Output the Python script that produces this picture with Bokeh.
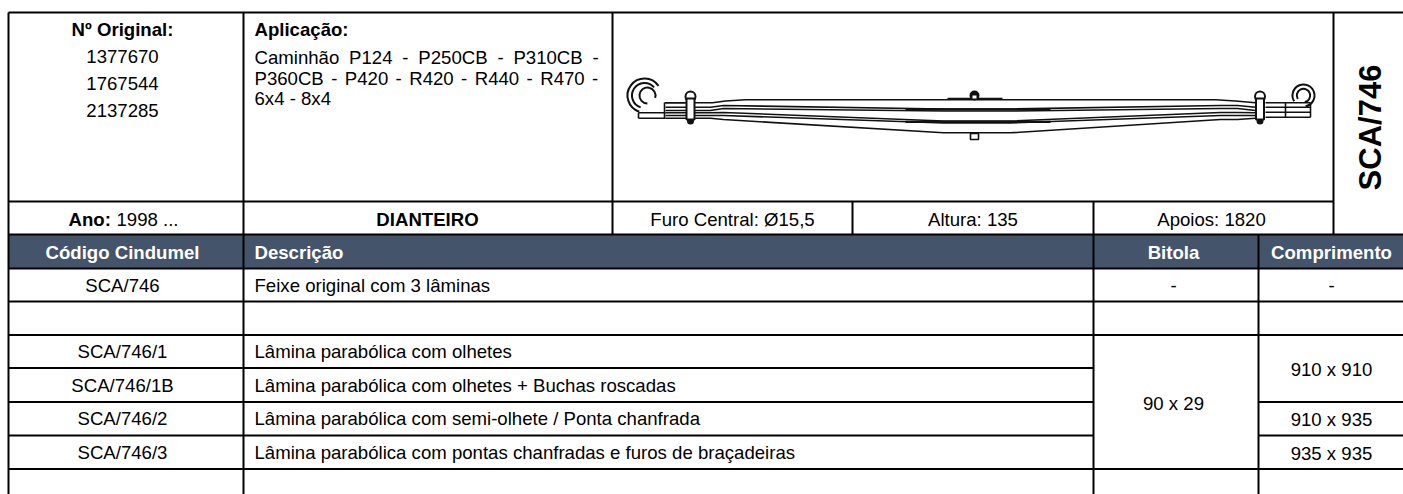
from bokeh.plotting import figure
from bokeh.models import Range1d
from bokeh.core.properties import value
from bokeh.embed import file_html
from bokeh.resources import INLINE

# ---- table content
originals = ["1377670", "1767544", "2137285"]
app_line1 = ["Caminhão", "P124", "-", "P250CB", "-", "P310CB", "-"]
app_line2 = ["P360CB", "-", "P420", "-", "R420", "-", "R440", "-", "R470", "-"]
app_line3 = ["6x4 - 8x4"]
info_row = ["Furo Central: Ø15,5", "Altura: 135", "Apoios: 1820"]
headers = ["Código Cindumel", "Descrição", "Bitola", "Comprimento"]
codes = ["SCA/746", "", "SCA/746/1", "SCA/746/1B", "SCA/746/2", "SCA/746/3", ""]
descriptions = ["Feixe original com 3 lâminas", "", "Lâmina parabólica com olhetes",
                "Lâmina parabólica com olhetes + Buchas roscadas",
                "Lâmina parabólica com semi-olhete / Ponta chanfrada",
                "Lâmina parabólica com pontas chanfradas e furos de braçadeiras", ""]
code_title = "SCA/746"

# ---- layout of the table (pixels)
X0, X1, X2, X3, X4, X5, X6 = 8, 243, 612, 852, 1093, 1333, 1258
Y_TOP, Y_ANO, Y_HEAD, Y_BODY = 12, 201, 234, 268
ROWS = [268, 301, 334.5, 367.5, 401.5, 435, 468.5, 494]
APP_X1 = [254, 348.6, 401.8, 417.8, 496.9, 512.9, 592]
APP_X2 = [254, 330.7, 344.3, 395.1, 408.7, 460.6, 474.2, 526.1, 539.7, 591.6]
FS = "18.6px"
FONT = value("Liberation Sans")

p = figure(width=1403, height=494, x_range=Range1d(0, 1403), y_range=Range1d(494, 0),
           output_backend="svg", toolbar_location=None, min_border=0,
           background_fill_color="white", border_fill_color="white",
           outline_line_color=None)
p.axis.visible = False
p.grid.visible = False

# header band
p.quad(left=[X0], right=[1403], top=[Y_HEAD], bottom=[Y_BODY], fill_color="#44546A", line_color=None)

# grid lines
r = ROWS
segs = [
    ([X0, 1403], [Y_TOP, Y_TOP]),
    ([X0, X5], [Y_ANO, Y_ANO]), ([X0, 1403], [Y_HEAD, Y_HEAD]), ([X0, 1403], [Y_BODY, Y_BODY]),
    ([X0, X0], [Y_TOP, 494]), ([X1, X1], [Y_TOP, 494]), ([X2, X2], [Y_TOP, Y_HEAD]),
    ([X3, X3], [Y_ANO, Y_HEAD]), ([X4, X4], [Y_ANO, Y_HEAD]), ([X5, X5], [Y_TOP, Y_HEAD]),
    ([X4, X4], [Y_HEAD, 494]), ([X6, X6], [Y_HEAD, 494]),
    ([X0, 1403], [r[1], r[1]]), ([X0, 1403], [r[2], r[2]]), ([X0, 1403], [r[6], r[6]]),
    ([X0, X4], [r[3], r[3]]), ([X0, X4], [r[4], r[4]]), ([X6, 1403], [r[4], r[4]]),
    ([X0, X4], [r[5], r[5]]), ([X6, 1403], [r[5], r[5]]),
]
p.multi_line([s[0] for s in segs], [s[1] for s in segs], line_color="black", line_width=2)


def txt(x, y, s, align="center", bold=False, color="black", size=FS, angle=0):
    p.text([x], [y], text=[s], text_align=align, text_baseline="middle",
           text_font=FONT, text_font_size=size, text_color=color, angle=angle,
           text_font_style="bold" if bold else "normal")


# top-left block
txt(122, 29, "Nº Original:", bold=True)
for s, y in zip(originals, [56, 83, 110]):
    txt(122, y, s)
txt(254, 29, "Aplicação:", "left", True)
for s, x in zip(app_line1, APP_X1):
    txt(x, 57, s, "left")
for s, x in zip(app_line2, APP_X2):
    txt(x, 78, s, "left")
txt(254, 98, app_line3[0], "left")

# info row
txt(68, 219, "Ano:", "left", True)
txt(116, 219, "1998 ...", "left")
txt(427, 219, "DIANTEIRO", bold=True)
for s, x in zip(info_row, [(X2 + X3) / 2, (X3 + X4) / 2, 1211]):
    txt(x, 219, s)

# header
for s, x, a in zip(headers, [122, 254, 1173, 1331], ["center", "left", "center", "center"]):
    txt(x, 252, s, a, True, "white")

# body
mids = [(ROWS[i] + ROWS[i + 1]) / 2 for i in range(len(ROWS) - 1)]
for c, d, y in zip(codes, descriptions, mids):
    if c:
        txt(122, y, c)
        txt(254, y, d, "left")
txt(1173, mids[0], "-")
txt(1331, mids[0], "-")
txt(1173, 403, "90 x 29")
txt(1331, 369, "910 x 910")
txt(1331, 419, "910 x 935")
txt(1331, 452.5, "935 x 935")

# vertical code
txt(1370, 127, code_title, bold=True, size="31px", angle=1.5708)

# ---- spring drawing
spring_x = [
    [665, 712, 725, 745, 1215, 1235, 1255],
    [665, 710, 723, 943, 1010, 1220, 1237, 1255],
    [665, 710, 723, 943, 1010, 1220, 1237, 1255],
    [665, 710, 723, 943, 1010, 1220, 1237, 1255],
    [665, 710, 723, 943, 1010, 1220, 1237, 1255],
    [665, 710, 723, 943, 1010, 1220, 1237, 1255],
    [638, 665], [638, 665], [664, 685], [1265, 1310], [1265, 1310], [1265, 1310], [1265, 1310],
    [664, 664], [1285, 1285], [638, 638], [1310, 1310],
    [947, 1002],
]
spring_y = [
    [102.3, 102.3, 100.5, 99.3, 99.3, 100.5, 102.3],
    [106.7, 106.7, 105, 108.5, 108.5, 105, 105, 106.7],
    [110, 110, 108, 110.5, 110.5, 108, 108, 110],
    [112.3, 112.3, 112, 120.5, 120.5, 112, 112, 112.3],
    [115, 115, 115, 122.5, 122.5, 115, 115, 115],
    [117.7, 117.7, 119, 132.3, 132.3, 119, 119, 117.7],
    [112.3, 112.3], [117.7, 117.7], [102.3, 102.3], [102.3, 102.3], [106.7, 106.7], [111.7, 111.7], [116.7, 116.7],
    [102.3, 117.7], [102.3, 116.7], [112.3, 117.7], [102.3, 116.7],
    [98, 98],
]
p.multi_line(spring_x, spring_y, line_color="#111111", line_width=1.6)
# thick middle of the leaves
p.multi_line([[905, 1050], [905, 1050]], [[108.8, 108.8], [121.3, 121.3]], line_color="#111111", line_width=2.2)
# centre bolt
p.circle([974], [95], radius=5, fill_color="#111111", line_color=None)
p.quad(left=[972], right=[976], top=[95], bottom=[98], fill_color="white", line_color=None)
p.quad(left=[970], right=[978], top=[133], bottom=[139], fill_color="white", line_color="#111111", line_width=1.6)
# eyes
p.arc([644, 644, 647, 1303, 1303], [95, 95, 95, 95, 95],
      radius=[17, 12.5, 8, 11, 6.7], start_angle=[0.6, 0.7, -0.3, 4.9, 4.9], end_angle=[4.4, 4.4, 4.7, 3.7, 3.7],
      line_color="#111111", line_width=2)
# clamps
p.circle([690, 1259.5], [96, 96], radius=5, fill_color="white", line_color="#111111", line_width=2)
p.circle([690, 1259.5], [120.5, 120.5], radius=3.5, fill_color="#111111", line_color=None)
p.quad(left=[686, 1255.5], right=[694, 1263.5], top=[98, 98], bottom=[119, 119],
       fill_color="white", line_color="#111111", line_width=2)

open("out.html", "w").write(file_html(p, INLINE))
